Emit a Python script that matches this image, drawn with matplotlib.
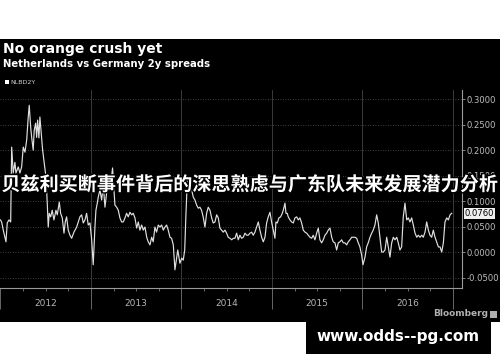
import matplotlib
matplotlib.use("Agg")
import matplotlib.pyplot as plt
import matplotlib.patches as mpatches
import matplotlib.patheffects as pe
from matplotlib.ticker import FixedLocator, FuncFormatter
import numpy as np

# ---------------- data ----------------
title = "No orange crush yet"
subtitle = "Netherlands vs Germany 2y spreads"
series_name = "NLBD2Y"
overlay_text = "贝兹利买断事件背后的深思熟虑与广东队未来发展潜力分析"
watermark = "www.odds--pg.com"
year_labels = [2012, 2013, 2014, 2015, 2016]
y_ticks = [-0.05, 0.0, 0.05, 0.10, 0.15, 0.20, 0.25, 0.30]
last_value = 0.0760

years = [2012.000, 2012.013, 2012.031, 2012.061, 2012.075, 2012.094, 2012.113, 2012.124,
         2012.141, 2012.160, 2012.171, 2012.197, 2012.215, 2012.234, 2012.252, 2012.271,
         2012.290, 2012.307, 2012.318, 2012.334, 2012.345, 2012.362, 2012.373, 2012.389,
         2012.400, 2012.411, 2012.425, 2012.436, 2012.455, 2012.466, 2012.484, 2012.503,
         2012.517, 2012.528, 2012.539, 2012.555, 2012.572, 2012.591, 2012.613, 2012.628,
         2012.650, 2012.665, 2012.683, 2012.702, 2012.716, 2012.731, 2012.749, 2012.768,
         2012.787, 2012.812, 2012.842, 2012.860, 2012.878, 2012.897, 2012.915, 2012.934,
         2012.952, 2012.970, 2012.989, 2013.008, 2013.025, 2013.044, 2013.055, 2013.070,
         2013.081, 2013.099, 2013.118, 2013.136, 2013.155, 2013.173, 2013.191, 2013.210,
         2013.239, 2013.254, 2013.265, 2013.284, 2013.302, 2013.320, 2013.339, 2013.357,
         2013.376, 2013.394, 2013.412, 2013.431, 2013.450, 2013.467, 2013.486, 2013.505,
         2013.523, 2013.541, 2013.560, 2013.578, 2013.597, 2013.616, 2013.633, 2013.652,
         2013.671, 2013.688, 2013.707, 2013.725, 2013.744, 2013.762, 2013.781, 2013.799,
         2013.818, 2013.836, 2013.854, 2013.873, 2013.891, 2013.910, 2013.928, 2013.943,
         2013.959, 2013.983, 2014.003, 2014.020, 2014.036, 2014.050, 2014.066, 2014.083,
         2014.113, 2014.130, 2014.149, 2014.168, 2014.186, 2014.204, 2014.222, 2014.240,
         2014.260, 2014.278, 2014.296, 2014.315, 2014.334, 2014.351, 2014.370, 2014.389,
         2014.407, 2014.425, 2014.444, 2014.462, 2014.481, 2014.499, 2014.517, 2014.536,
         2014.555, 2014.573, 2014.591, 2014.610, 2014.628, 2014.646, 2014.665, 2014.683,
         2014.702, 2014.721, 2014.738, 2014.757, 2014.776, 2014.793, 2014.812, 2014.831,
         2014.849, 2014.867, 2014.886, 2014.904, 2014.923, 2014.941, 2014.959, 2014.978,
         2014.996, 2015.014, 2015.033, 2015.044, 2015.059, 2015.077, 2015.096, 2015.114,
         2015.125, 2015.144, 2015.155, 2015.169, 2015.180, 2015.199, 2015.218, 2015.236,
         2015.254, 2015.273, 2015.291, 2015.309, 2015.328, 2015.346, 2015.365, 2015.384,
         2015.401, 2015.420, 2015.439, 2015.456, 2015.475, 2015.494, 2015.512, 2015.530,
         2015.549, 2015.567, 2015.586, 2015.605, 2015.622, 2015.641, 2015.660, 2015.677,
         2015.696, 2015.715, 2015.733, 2015.751, 2015.770, 2015.788, 2015.807, 2015.826,
         2015.843, 2015.862, 2015.881, 2015.898, 2015.917, 2015.936, 2015.954, 2015.972,
         2015.991, 2016.006, 2016.028, 2016.046, 2016.064, 2016.083, 2016.102, 2016.119,
         2016.138, 2016.157, 2016.175, 2016.193, 2016.212, 2016.230, 2016.249, 2016.268,
         2016.286, 2016.304, 2016.323, 2016.341, 2016.360, 2016.379, 2016.396, 2016.414,
         2016.433, 2016.451, 2016.470, 2016.489, 2016.507, 2016.525, 2016.544, 2016.562,
         2016.581, 2016.600, 2016.617, 2016.636, 2016.655, 2016.672, 2016.691, 2016.710,
         2016.728, 2016.746, 2016.765, 2016.783, 2016.802, 2016.820, 2016.839, 2016.857,
         2016.876, 2016.894, 2016.912, 2016.931, 2016.949, 2016.968, 2016.986]

spread = [0.063, 0.059, 0.043, 0.020, 0.057, 0.063, 0.059, 0.206,
          0.155, 0.176, 0.155, 0.167, 0.155, 0.167, 0.206, 0.196,
          0.220, 0.265, 0.288, 0.245, 0.225, 0.200, 0.239, 0.253,
          0.225, 0.259, 0.224, 0.265, 0.225, 0.200, 0.175, 0.147,
          0.096, 0.049, 0.076, 0.069, 0.082, 0.063, 0.082, 0.073,
          0.098, 0.076, 0.067, 0.037, 0.059, 0.069, 0.043, 0.033,
          0.027, 0.039, 0.049, 0.059, 0.069, 0.073, 0.057, 0.063,
          0.076, 0.053, 0.057, 0.024, -0.025, 0.049, 0.082, 0.096,
          0.108, 0.122, 0.102, 0.131, 0.088, 0.116, 0.127, 0.122,
          0.165, 0.122, 0.092, 0.088, 0.082, 0.067, 0.059, 0.059,
          0.067, 0.076, 0.069, 0.078, 0.073, 0.076, 0.067, 0.047,
          0.059, 0.043, 0.053, 0.043, 0.049, 0.029, 0.020, 0.014,
          0.029, 0.020, 0.049, 0.039, 0.053, 0.049, 0.053, 0.043,
          0.049, 0.053, 0.043, 0.029, 0.027, 0.014, -0.035, -0.016,
          0.004, -0.022, -0.012, -0.016, 0.004, 0.076, 0.145, 0.131,
          0.122, 0.108, 0.102, 0.092, 0.086, 0.088, 0.082, 0.069,
          0.049, 0.076, 0.088, 0.082, 0.067, 0.057, 0.059, 0.073,
          0.067, 0.047, 0.043, 0.039, 0.043, 0.037, 0.029, 0.027,
          0.024, 0.027, 0.027, 0.037, 0.024, 0.033, 0.027, 0.029,
          0.037, 0.033, 0.033, 0.037, 0.039, 0.033, 0.039, 0.049,
          0.059, 0.043, 0.029, 0.020, 0.029, 0.057, 0.069, 0.078,
          0.059, 0.043, 0.027, 0.059, 0.057, 0.067, 0.069, 0.076,
          0.082, 0.096, 0.076, 0.076, 0.069, 0.063, 0.059, 0.057,
          0.067, 0.069, 0.063, 0.067, 0.057, 0.043, 0.039, 0.037,
          0.033, 0.029, 0.027, 0.033, 0.024, 0.037, 0.047, 0.024,
          0.018, 0.024, 0.033, 0.037, 0.043, 0.047, 0.029, 0.020,
          0.018, 0.004, 0.018, 0.020, 0.024, 0.018, 0.018, 0.014,
          0.020, 0.024, 0.029, 0.029, 0.029, 0.027, 0.018, 0.010,
          -0.006, -0.025, -0.010, 0.010, 0.018, 0.029, 0.037, 0.043,
          0.053, 0.073, 0.057, 0.029, 0.000, 0.000, 0.004, 0.029,
          0.010, -0.010, 0.018, 0.029, 0.024, 0.029, 0.018, 0.004,
          0.010, 0.069, 0.096, 0.063, 0.067, 0.059, 0.067, 0.053,
          0.037, 0.029, 0.033, 0.029, 0.033, 0.029, 0.039, 0.059,
          0.043, 0.033, 0.029, 0.043, 0.029, 0.020, 0.010, 0.010,
          0.000, 0.018, 0.059, 0.067, 0.063, 0.073, 0.076]

# ---------------- figure ----------------
W, H = 500, 362
fig = plt.figure(figsize=(W / 100, H / 100), dpi=100)
fig.patch.set_facecolor("white")

def fx(px):
    return px / W

def fy(py):
    return 1 - py / H

# black Bloomberg panel
fig.add_artist(mpatches.Rectangle((0, fy(322)), 1, (322 - 39) / H,
                                  transform=fig.transFigure, facecolor="black",
                                  edgecolor="none", zorder=0))

grey = "#9a9a9a"
ax = fig.add_axes([fx(0), fy(288), fx(462), (288 - 90) / H])
ax.set_facecolor("black")
ax.set_xlim(2011.995, 2017.1)
ax.set_ylim(-0.0706, 0.318)

ax.plot(years, spread, color="#e0e0e0", lw=0.85, zorder=3)

# spines
for s in ["top", "left"]:
    ax.spines[s].set_visible(False)
ax.spines["right"].set_color(grey)
ax.spines["bottom"].set_color(grey)
ax.spines["right"].set_linewidth(0.8)
ax.spines["bottom"].set_linewidth(0.8)

# y axis on right
ax.yaxis.tick_right()
ax.set_yticks(y_ticks)
ax.yaxis.set_major_formatter(FuncFormatter(lambda v, p: f"{v:.4f}"))
ax.tick_params(axis="y", colors=grey, labelcolor="#bdbdbd", labelsize=6.1,
               length=2.5, width=0.6, pad=1)
for t in y_ticks:
    ax.axhline(t, color="#555555", lw=0.6, ls=(0, (1, 2)), zorder=1)

# x axis: year boundaries and quarter ticks
bounds = [y for y in year_labels] + [year_labels[-1] + 1]
ax.xaxis.set_major_locator(FixedLocator(bounds))
ax.xaxis.set_minor_locator(FixedLocator([b + q / 4 for b in year_labels + [2017] for q in range(1, 4)]))
ax.set_xticklabels([])
ax.tick_params(axis="x", which="major", colors="#777777", length=15, width=0.6)
ax.tick_params(axis="x", which="minor", colors="#777777", length=2, width=0.6)
for b in bounds[1:]:
    ax.axvline(b, color="#444444", lw=0.6, zorder=1)
for y in year_labels:
    ax.text(y + 0.5, -0.0706 - 0.031, str(y), ha="center", va="center",
            color="#b5b5b5", fontsize=6.5)

# last value label
ax.annotate(f"{last_value:.4f}", xy=(1.0, last_value), xycoords=("axes fraction", "data"),
            xytext=(2, 0), textcoords="offset points", ha="left", va="center",
            fontsize=6.1, color="black",
            bbox=dict(boxstyle="square,pad=0.12", fc="#f0f0f0", ec="none"))

# titles
fig.text(fx(3), fy(49), title, color="white", fontsize=10.0, fontweight="bold",
         ha="left", va="center")
fig.text(fx(3), fy(64), subtitle, color="white", fontsize=7.3, fontweight="bold",
         ha="left", va="center")
fig.add_artist(mpatches.Rectangle((fx(5), fy(84)), 4 / W, 4 / H, transform=fig.transFigure,
                                  facecolor="white", edgecolor="none"))
fig.text(fx(10), fy(82), series_name, color="#cfcfcf", fontsize=4.5, ha="left", va="center")

# Bloomberg tag
fig.text(fx(488), fy(314), "Bloomberg", color="#b0b0b0", fontsize=6.5, fontweight="bold",
         ha="right", va="center")
fig.add_artist(mpatches.Rectangle((fx(490), fy(318)), 7 / W, 7 / H, transform=fig.transFigure,
                                  facecolor="#b0b0b0", edgecolor="none"))

# overlay Chinese headline
fig.text(0.5, fy(185), overlay_text, color="white", fontsize=13.75, fontweight="bold",
         ha="center", va="center", family=["Noto Sans CJK SC", "DejaVu Sans"],
         path_effects=[pe.withStroke(linewidth=2, foreground="black")], zorder=10)

# watermark box
fig.add_artist(mpatches.Rectangle((fx(306), fy(354)), 185 / W, 33 / H, transform=fig.transFigure,
                                  facecolor="black", edgecolor="none", zorder=5))
fig.text(fx(398), fy(337), watermark, color="white", fontsize=11, fontweight="bold",
         ha="center", va="center", zorder=6)

fig.savefig("out.png", dpi=100, facecolor=fig.get_facecolor())
